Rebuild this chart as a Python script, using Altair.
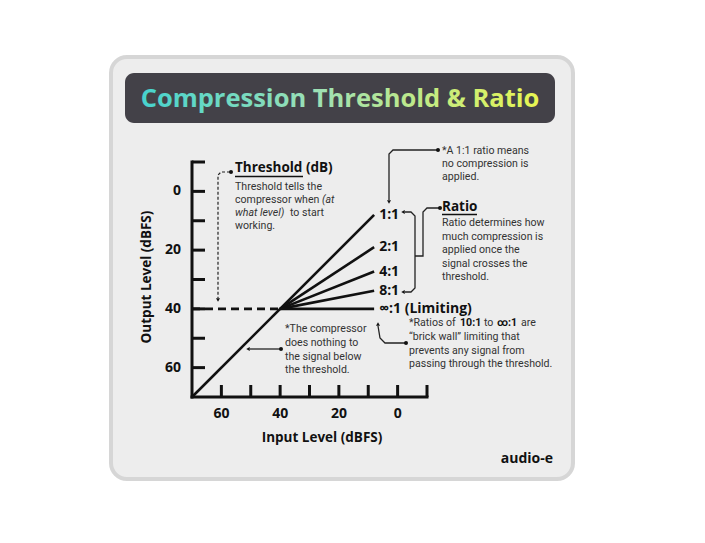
import altair as alt
import pandas as pd

# ---------------- data ----------------
ratio_names = ["1:1", "2:1", "4:1", "8:1", "∞:1 (Limiting)"]
threshold = 40
start_level = 70
axis_end = -10
end_input = 8
end_output = [8, 19, 27.3, 33.8, 40]
y_ticks = [-10, 0, 10, 20, 30, 40, 50, 60]
x_ticks = [60, 50, 40, 30, 20, 10, 0, -10]
y_labels = [0, 20, 40, 60]
x_labels = [60, 40, 20, 0]

# ---------------- layout helpers ----------------
X0, Y0, W, H = 192, 162, 235, 235          # plot area on the page
K = W / 80.0                                # px per dB


def dx(px):
    return 70 - (px - X0) / K


def dy(py):
    return -10 + (py - Y0) / K


xs = alt.Scale(domain=[70, -10], nice=False, zero=False)
ys = alt.Scale(domain=[70, -10], nice=False, zero=False)


def X(f="x"):
    return alt.X(f"{f}:Q", scale=xs, axis=None)


def Y(f="y"):
    return alt.Y(f"{f}:Q", scale=ys, axis=None)


BOLD = "Open Sans"
BODY = "Roboto"
INK = "#111111"


def rect_layer(x1, y1, x2, y2, **style):
    df = pd.DataFrame([{"x": dx(x1), "x2": dx(x2), "y": dy(y1), "y2": dy(y2)}])
    return alt.Chart(df).mark_rect(**style).encode(
        x=X(), x2="x2:Q", y=Y(), y2="y2:Q")


def text_layer(items, **style):
    df = pd.DataFrame([{"t": t, "x": dx(px), "y": dy(py)} for t, px, py in items])
    st = dict(align="left", baseline="middle")
    st.update(style)
    return alt.Chart(df).mark_text(**st).encode(x=X(), y=Y(), text="t:N")


def path_layer(paths, **style):
    rows = []
    for i, pts in enumerate(paths):
        for j, (px, py) in enumerate(pts):
            rows.append({"id": i, "o": j, "x": dx(px), "y": dy(py)})
    df = pd.DataFrame(rows)
    return alt.Chart(df).mark_line(**style).encode(
        x=X(), y=Y(), detail="id:N", order="o:Q")


def point_layer(items, size=18):
    df = pd.DataFrame([{"shape": s, "x": dx(px), "y": dy(py)} for s, px, py in items])
    return alt.Chart(df).mark_point(filled=True, color=INK, opacity=1, size=size).encode(
        x=X(), y=Y(), shape=alt.Shape("shape:N", scale=None))


# ---------------- card & title ----------------
card = rect_layer(111, 57, 573, 479, fill="#ededed", stroke="#d6d6d6",
                  strokeWidth=4, cornerRadius=16)
bar = rect_layer(125, 73, 555, 123, fill="#434148", cornerRadius=9)
grad = alt.LinearGradient(
    gradient="linear", x1=0, x2=1, y1=0, y2=0,
    stops=[alt.GradientStop(color="#46d3cf", offset=0),
           alt.GradientStop(color="#9fe0b4", offset=0.45),
           alt.GradientStop(color="#e8f552", offset=1)])
title = text_layer([("Compression Threshold & Ratio", 340, 99)], align="center",
                   font=BOLD, fontWeight="bold", fontSize=25.5, color=grad)

# ---------------- axes (drawn from the data scales) ----------------
ydom = pd.DataFrame({"x": [start_level], "y": [axis_end], "y2": [start_level]})
ydomain = alt.Chart(ydom).mark_rule(color=INK, strokeWidth=3, strokeCap="square").encode(
    x=X(), y=Y(), y2="y2:Q")
xdom = pd.DataFrame({"y": [start_level], "x": [start_level], "x2": [axis_end]})
xdomain = alt.Chart(xdom).mark_rule(color=INK, strokeWidth=3, strokeCap="square").encode(
    y=Y(), x=X(), x2="x2:Q")

ytick_df = pd.DataFrame({"y": y_ticks})
yticks = alt.Chart(ytick_df).mark_rule(color=INK, strokeWidth=3).encode(
    y=Y(), x=alt.value(0), x2=alt.value(13))
xtick_df = pd.DataFrame({"x": x_ticks})
xticks = alt.Chart(xtick_df).mark_rule(color=INK, strokeWidth=3).encode(
    x=X(), y=alt.value(H), y2=alt.value(H - 12))

ylab_df = pd.DataFrame({"y": y_labels, "x": [start_level] * len(y_labels),
                        "t": [str(v) for v in y_labels]})
ylabels = alt.Chart(ylab_df).mark_text(
    align="right", baseline="middle", dx=-11, font=BOLD, fontWeight="bold",
    fontSize=14, color=INK).encode(x=X(), y=Y(), text="t:N")
xlab_df = pd.DataFrame({"x": x_labels, "y": [start_level] * len(x_labels),
                        "t": [str(v) for v in x_labels]})
xlabels = alt.Chart(xlab_df).mark_text(
    align="center", baseline="middle", dy=17, font=BOLD, fontWeight="bold",
    fontSize=14, color=INK).encode(x=X(), y=Y(), text="t:N")

# ---------------- curves ----------------
rows = [{"s": ratio_names[0], "o": 0, "inp": start_level, "out": start_level}]
for name, v in zip(ratio_names, end_output):
    rows.append({"s": name, "o": 1, "inp": threshold, "out": threshold})
    rows.append({"s": name, "o": 2, "inp": end_input, "out": v})
curve_df = pd.DataFrame(rows)
curves = alt.Chart(curve_df).mark_line(color=INK, strokeWidth=2.6).encode(
    x=X("inp"), y=Y("out"), detail="s:N", order="o:Q")

thr_df = pd.DataFrame({"inp": [start_level, threshold], "out": [threshold, threshold]})
thr_line = alt.Chart(thr_df).mark_line(color=INK, strokeWidth=2.6, strokeDash=[8, 5]).encode(
    x=X("inp"), y=Y("out"))

lab_df = pd.DataFrame({"t": ratio_names, "inp": [end_input] * 5, "out": end_output})
ratio_labels = alt.Chart(lab_df).mark_text(
    align="left", baseline="middle", dx=5, font=BOLD, fontWeight="bold",
    fontSize=14, color=INK).encode(x=X("inp"), y=Y("out"), text="t:N")

# ---------------- connectors ----------------
thr_conn = path_layer([[(230, 172), (221, 172), (218, 175), (218, 298)]],
                      color="#222", strokeWidth=1.2, strokeDash=[3, 2])
conns = path_layer([
    [(437, 150), (393, 150), (389, 154), (389, 200)],
    [(439, 208), (427, 208), (423, 212), (423, 256), (415, 256)],
    [(405, 212), (411, 212), (415, 216), (415, 288), (411, 292), (405, 292)],
    [(405, 343), (385, 343), (380, 338), (378, 326)],
    [(280, 349), (250, 349)],
], color="#222", strokeWidth=1.3)
marks = point_layer([
    ("triangle-down", 218, 300), ("triangle-down", 389, 202),
    ("triangle-left", 403, 212), ("triangle-left", 403, 292),
    ("triangle-up", 378, 324), ("triangle-left", 248, 349),
], size=16)
dots = point_layer([
    ("circle", 231, 172), ("circle", 438, 150), ("circle", 440, 208),
    ("circle", 406, 343), ("circle", 281, 349),
], size=16)

# ---------------- texts ----------------
heads = text_layer([("Threshold (dB)", 235, 168), ("Ratio", 442, 207)],
                   font=BOLD, fontWeight="bold", fontSize=13.5, color=INK)
underline = path_layer([[(235, 176.5), (303, 176.5)], [(442, 214.5), (477, 214.5)]],
                       color=INK, strokeWidth=1.4)
body_style = dict(font=BODY, fontSize=10.6, color="#333333")
body = text_layer([
    ("Threshold tells the", 235, 186.5), ("compressor when", 235, 200),
    ("to start", 290, 213), ("working.", 235, 226),
    ("*A 1:1 ratio means", 442, 151), ("no compression is", 442, 164),
    ("applied.", 442, 177),
    ("Ratio determines how", 442, 223), ("much compression is", 442, 236.5),
    ("applied once the", 442, 250), ("signal crosses the", 442, 263.5),
    ("threshold.", 442, 277),
    ("*Ratios of", 409, 323), ("to", 484, 323), ("are", 521, 323),
    ("\u201cbrick wall\u201d limiting that", 409, 337),
    ("prevents any signal from", 409, 351),
    ("passing through the threshold.", 409, 364),
    ("*The compressor", 285, 329), ("does nothing to", 285, 343),
    ("the signal below", 285, 357), ("the threshold.", 285, 370),
], **body_style)
italic = text_layer([("(at", 322, 200), ("what level)", 235, 213)],
                    fontStyle="italic", **body_style)
body_bold = text_layer([("10:1", 460, 323), ("∞:1", 497, 323)],
                       font=BODY, fontSize=10.6, fontWeight="bold", color=INK)

ytitle = text_layer([("Output Level (dBFS)", 147, 277)], font=BOLD, fontWeight="bold",
                    fontSize=13.5, color=INK, align="center", angle=270)
xtitle = text_layer([("Input Level (dBFS)", 322, 438)], font=BOLD, fontWeight="bold",
                    fontSize=13.5, color=INK, align="center")
brand = text_layer([("audio-e", 553, 459)], font=BOLD, fontWeight="bold",
                   fontSize=14, color=INK, align="right")

chart = alt.layer(
    card, bar, title, yticks, xticks, thr_line, curves, ydomain, xdomain,
    ylabels, xlabels, ratio_labels,
    thr_conn, conns, marks, dots, heads, underline, body, italic, body_bold,
    ytitle, xtitle, brand,
).properties(
    width=W, height=H,
    autosize=alt.AutoSizeParams(type="none"),
    padding={"left": X0 - 8, "top": Y0 - 8, "right": 689 - (X0 - 8) - W,
             "bottom": 527 - (Y0 - 8) - H},
).configure(background="white").configure_view(stroke=None)

chart.save("out.html", embed_options={"renderer": "svg", "actions": False})
